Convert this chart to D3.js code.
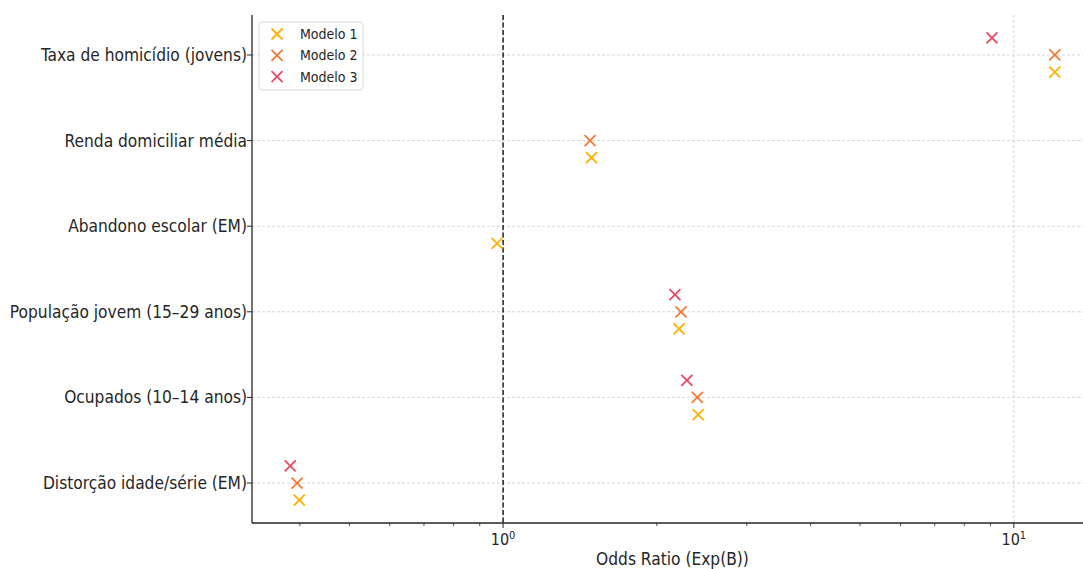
<!DOCTYPE html>
<html><head><meta charset="utf-8">
<script src="https://cdn.jsdelivr.net/npm/d3@7"></script>
<style>
body{margin:0;background:#fff;}
text{font-family:"DejaVu Sans Condensed","DejaVu Sans",sans-serif;fill:#262626;}
</style></head>
<body><svg id="c" width="1083" height="569"></svg>
<script>
const categories = ["Distorção idade/série (EM)","Ocupados (10–14 anos)","População jovem (15–29 anos)","Abandono escolar (EM)","Renda domiciliar média","Taxa de homicídio (jovens)"];
const modelNames = ["Modelo 1","Modelo 2","Modelo 3"];
const modelo1 = [0.399, 2.41, 2.21, 0.973, 1.49, 12.03];
const modelo2 = [0.395, 2.40, 2.23, null, 1.48, 12.03];
const modelo3 = [0.383, 2.29, 2.17, null, null, 9.06];
const xTickValues = [1, 10];
const xTickLabels = ["10", "10"];
const xTickExponents = ["0", "1"];

const series = [modelo1, modelo2, modelo3];
const offsets = [-0.2, 0, 0.2];
const colors = ["#FFB000", "#F5793A", "#EE4762"];

const svg = d3.select("#c");
const L = 252, R = 1093, T = 15, B = 523;
const x = d3.scaleLog().domain([Math.pow(10,-0.4916), Math.pow(10,1.155)]).range([L, R]);
const y = d3.scaleLinear().domain([-0.467, 5.467]).range([B, T]);

// grid
const g = svg.append("g");
categories.forEach((c,i)=>{
  g.append("line").attr("x1",L).attr("x2",R).attr("y1",y(i)).attr("y2",y(i))
   .attr("stroke","#cccccc").attr("stroke-width",0.8).attr("stroke-dasharray","3,2");
});
xTickValues.forEach(v=>{
  g.append("line").attr("x1",x(v)).attr("x2",x(v)).attr("y1",T).attr("y2",B)
   .attr("stroke","#cccccc").attr("stroke-width",0.8).attr("stroke-dasharray","3,2");
});

// reference line at OR = 1
svg.append("line").attr("x1",x(1)).attr("x2",x(1)).attr("y1",T).attr("y2",B)
  .attr("stroke","#000").attr("stroke-width",1.3).attr("stroke-dasharray","5,2.5");

// markers
function cross(sel, cx, cy, s, col){
  sel.append("path").attr("d",`M${cx-s},${cy-s}L${cx+s},${cy+s}M${cx-s},${cy+s}L${cx+s},${cy-s}`)
    .attr("stroke",col).attr("stroke-width",1.8).attr("fill","none");
}
const mk = svg.append("g");
series.forEach((arr,k)=>{
  arr.forEach((v,i)=>{
    if(v==null) return;
    cross(mk, x(v), y(i+offsets[k]), 5.5, colors[k]);
  });
});

// axes
const ax = svg.append("g");
ax.append("line").attr("x1",L).attr("x2",L).attr("y1",T).attr("y2",B).attr("stroke","#262626").attr("stroke-width",1.3);
ax.append("line").attr("x1",L).attr("x2",R).attr("y1",B).attr("y2",B).attr("stroke","#262626").attr("stroke-width",1.3);
categories.forEach((c,i)=>{
  ax.append("line").attr("x1",L-5).attr("x2",L).attr("y1",y(i)).attr("y2",y(i)).attr("stroke","#262626").attr("stroke-width",1);
  ax.append("text").attr("x",L-5).attr("y",y(i)).attr("dy","0.35em").attr("text-anchor","end")
    .attr("font-size",17.2).text(c);
});
// minor ticks
const minors = [];
[0.1,1].forEach(d=>{for(let m=2;m<=9;m++) minors.push(m*d);});
minors.filter(v=>x(v)>=L && x(v)<=R).forEach(v=>{
  ax.append("line").attr("x1",x(v)).attr("x2",x(v)).attr("y1",B).attr("y2",B+3).attr("stroke","#262626").attr("stroke-width",0.8);
});
xTickValues.forEach((v,i)=>{
  ax.append("line").attr("x1",x(v)).attr("x2",x(v)).attr("y1",B).attr("y2",B+5).attr("stroke","#262626").attr("stroke-width",1);
  const t = ax.append("text").attr("x",x(v)).attr("y",B+22).attr("text-anchor","middle").attr("font-size",16);
  t.append("tspan").text(xTickLabels[i]);
  t.append("tspan").attr("font-size",11).attr("dy",-6).text(xTickExponents[i]);
});
svg.append("text").attr("x",(L+R)/2).attr("y",565).attr("text-anchor","middle").attr("font-size",17.2).text("Odds Ratio (Exp(B))");

// legend
const lg = svg.append("g");
lg.append("rect").attr("x",259).attr("y",22).attr("width",104).attr("height",68).attr("rx",3)
  .attr("fill","#fff").attr("fill-opacity",0.8).attr("stroke","#d9d9d9").attr("stroke-width",1);
modelNames.forEach((n,k)=>{
  const yy = 34 + k*21.3;
  cross(lg, 277, yy, 5.5, colors[k]);
  lg.append("text").attr("x",300).attr("y",yy).attr("dy","0.35em").attr("font-size",14).text(n);
});
</script></body></html>
